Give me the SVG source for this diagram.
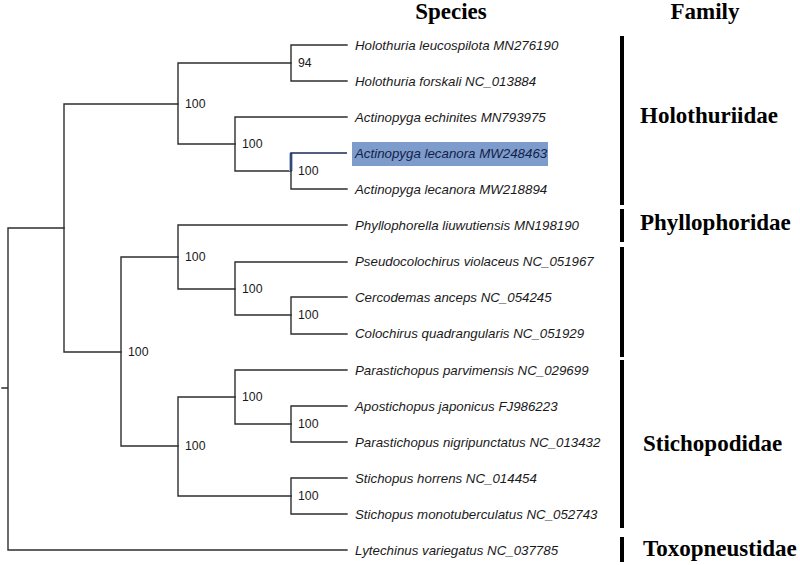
<svg xmlns="http://www.w3.org/2000/svg" width="800" height="565" viewBox="0 0 800 565">
<style>
.br{fill:none;stroke:#2e2e2e;stroke-width:1.4;stroke-linecap:square}
.leaf{font-family:"Liberation Sans",Arial,sans-serif;font-style:italic;font-size:13.3px;fill:#1a1a1a}
.bs{font-family:"Liberation Sans",Arial,sans-serif;font-size:12.3px;fill:#1a1a1a}
.hd{font-family:"Liberation Serif","Times New Roman",serif;font-weight:bold;font-size:23px;fill:#000}
.bar{fill:#000}
</style>
<rect width="800" height="565" fill="#fff"/>
<text class="hd" x="451" y="19" text-anchor="middle">Species</text>
<text class="hd" x="705" y="19" text-anchor="middle">Family</text>
<rect x="352" y="142" width="196" height="24" fill="#7d9ccb"/>
<g id="connectors">
<path class="br" d="M2 388H8M8 228V550M8 228H64M8 550H347"/>
<path class="br" d="M64 104V352M64 104H178M64 352H121"/>
<path class="br" d="M178 63V144M178 63H291M178 144H235"/>
<path class="br" d="M291 45V81M291 45H347M291 81H347"/>
<path class="br" d="M235 117V171M235 117H347M235 171H291"/>
<path d="M291 153V171" fill="none" stroke="#a9c0e0" stroke-width="4"/>
<path class="br" d="M291 171V189M291 189H347"/>
<path d="M291 171V153H347" fill="none" stroke="#1c2a55" stroke-width="1.6"/>
<path class="br" d="M121 257V446M121 257H178M121 446H178"/>
<path class="br" d="M178 225V289M178 225H347M178 289H235"/>
<path class="br" d="M235 262V315M235 262H347M235 315H291"/>
<path class="br" d="M291 297V334M291 297H347M291 334H347"/>
<path class="br" d="M178 397V496M178 397H235M178 496H291"/>
<path class="br" d="M235 370V424M235 370H347M235 424H291"/>
<path class="br" d="M291 406V442M291 406H347M291 442H347"/>
<path class="br" d="M291 478V514M291 478H347M291 514H347"/>
</g>
<g id="bootstrap">
<text class="bs" x="298" y="67">94</text>
<text class="bs" x="185" y="108">100</text>
<text class="bs" x="242" y="148">100</text>
<text class="bs" x="298" y="175">100</text>
<text class="bs" x="185" y="261">100</text>
<text class="bs" x="242" y="293">100</text>
<text class="bs" x="298" y="319">100</text>
<text class="bs" x="128" y="356">100</text>
<text class="bs" x="242" y="401">100</text>
<text class="bs" x="298" y="428">100</text>
<text class="bs" x="185" y="450">100</text>
<text class="bs" x="298" y="500">100</text>
</g>
<g id="leaves">
<g id="n1"><text class="leaf" x="355" y="49.5">Holothuria leucospilota MN276190</text></g>
<g id="n2"><text class="leaf" x="355" y="85.5">Holothuria forskali NC_013884</text></g>
<g id="n3"><text class="leaf" x="355" y="121.5">Actinopyga echinites MN793975</text></g>
<g id="n4"><text class="leaf" x="355" y="157.5" style="fill:#14204a">Actinopyga lecanora MW248463</text></g>
<g id="n5"><text class="leaf" x="355" y="193.5">Actinopyga lecanora MW218894</text></g>
<g id="n6"><text class="leaf" x="355" y="229.5">Phyllophorella liuwutiensis MN198190</text></g>
<g id="n7"><text class="leaf" x="355" y="266">Pseudocolochirus violaceus NC_051967</text></g>
<g id="n8"><text class="leaf" x="355" y="301.5">Cercodemas anceps NC_054245</text></g>
<g id="n9"><text class="leaf" x="355" y="338">Colochirus quadrangularis NC_051929</text></g>
<g id="n10"><text class="leaf" x="355" y="374.5">Parastichopus parvimensis NC_029699</text></g>
<g id="n11"><text class="leaf" x="355" y="410.5">Apostichopus japonicus FJ986223</text></g>
<g id="n12"><text class="leaf" x="355" y="446.5">Parastichopus nigripunctatus NC_013432</text></g>
<g id="n13"><text class="leaf" x="355" y="482.5">Stichopus horrens NC_014454</text></g>
<g id="n14"><text class="leaf" x="355" y="518.5">Stichopus monotuberculatus NC_052743</text></g>
<g id="n15"><text class="leaf" x="355" y="554.5">Lytechinus variegatus NC_037785</text></g>
</g>
<g id="families">
<rect class="bar" x="620" y="36" width="4" height="169"/>
<rect class="bar" x="620" y="209" width="4" height="33"/>
<rect class="bar" x="620" y="247" width="4" height="110"/>
<rect class="bar" x="620" y="360" width="4" height="168"/>
<rect class="bar" x="620" y="537" width="4" height="25"/>
<text class="hd" x="640" y="123">Holothuriidae</text>
<text class="hd" x="640" y="230">Phyllophoridae</text>
<text class="hd" x="643" y="451">Stichopodidae</text>
<text class="hd" x="643" y="556">Toxopneustidae</text>
</g>
</svg>
